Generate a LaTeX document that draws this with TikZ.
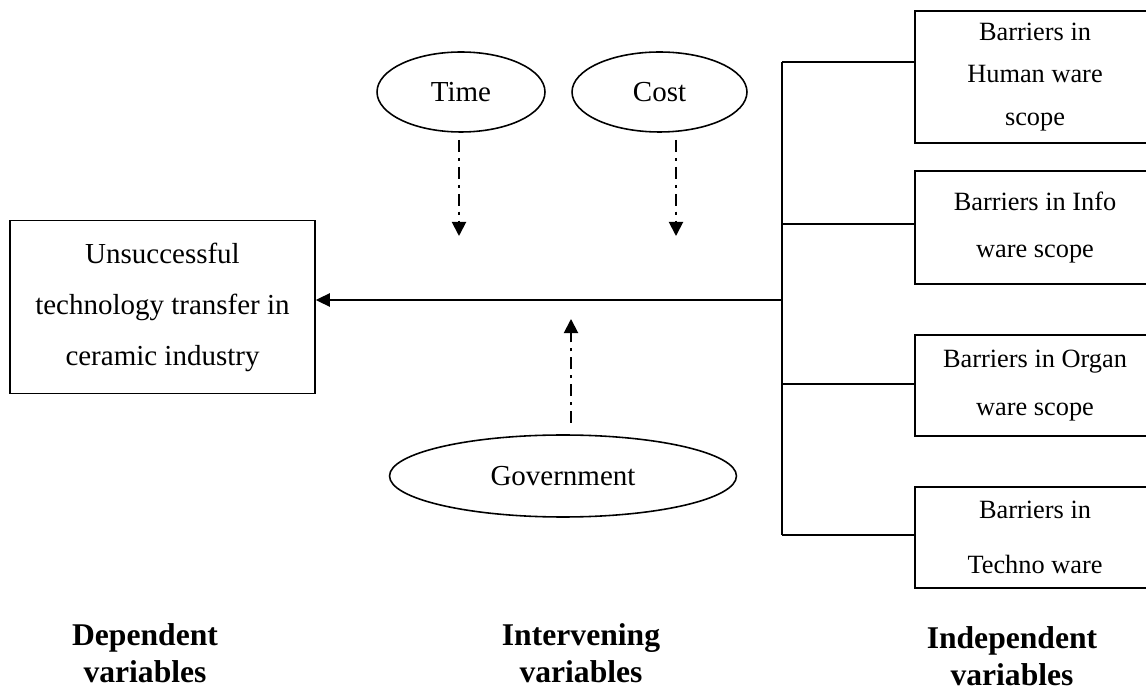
\documentclass[tikz,border=0pt]{standalone}
\usepackage{fontspec}
\setmainfont{Liberation Serif}
\usetikzlibrary{
    shapes.geometric,
    arrows.meta,
    positioning,
    calc
}
\tikzset{
    % Rectangular variable box
    varbox/.style={
        rectangle,
        draw=black,
        line width=0.9pt,
        align=center,
        inner sep=0pt,
        font=\fontsize{15}{#1}\selectfont
    },
    varbox/.default=25pt,
    % Ellipse for intervening variables
    moderator/.style={
        ellipse,
        draw=black,
        line width=0.9pt,
        inner sep=0pt,
        font=\fontsize{16.5}{20}\selectfont
    },
    % Arrow styles
    flow/.style={
        -{Triangle[length=8pt, width=7.5pt]},
        line width=1.1pt
    },
    effect/.style={
        -{Triangle[length=8pt, width=8pt]},
        line width=1.1pt,
        dash pattern={on 6.8pt off 3.4pt on 1.7pt off 3.4pt}
    },
    branch/.style={
        line width=1.1pt
    },
    % Column caption
    column title/.style={
        align=center,
        inner sep=0pt,
        font=\fontsize{18}{21}\selectfont\bfseries
    }
}
\begin{document}
\begin{tikzpicture}[x=0.02cm, y=-0.02cm]
        \useasboundingbox (0,0) rectangle (1146,695);

        % Dependent variable
        \node[varbox=29pt, font=\fontsize{16.5}{29}\selectfont,
              minimum width=6.1cm, minimum height=3.46cm] (dep) at (162.5, 307)
            {Unsuccessful\\technology transfer in\\ceramic industry};

        % Independent variables
        \node[varbox=24pt, minimum width=4.8cm, minimum height=2.64cm] (human) at (1035, 77)
            {Barriers in\\Human ware\\scope};
        \node[varbox=26.5pt, minimum width=4.8cm, minimum height=2.26cm] (info) at (1035, 227.5)
            {Barriers in Info\\ware scope};
        \node[varbox=27pt, minimum width=4.8cm, minimum height=2.02cm] (organ) at (1035, 385.5)
            {Barriers in Organ\\ware scope};
        \node[varbox=31pt, minimum width=4.8cm, minimum height=2.02cm] (techno) at (1035, 537.5)
            {Barriers in\\Techno ware};

        % Intervening variables
        \node[moderator, minimum width=3.36cm, minimum height=1.6cm] (time) at (461, 92) {Time};
        \node[moderator, minimum width=3.5cm, minimum height=1.6cm] (cost) at (659.5, 92) {Cost};
        \node[moderator, minimum width=6.94cm, minimum height=1.64cm] (gov) at (563, 476) {Government};

        % Bus of the independent variables
        \coordinate (bustop) at (782, 62);
        \coordinate (busbot) at (782, 535);
        \coordinate (bus) at (782, 300);
        \draw[branch] (bustop) -- (busbot);
        \draw[branch] (bustop) -- (bustop -| human.west);
        \draw[branch] (info.west |- 0,224) -- (782, 224);
        \draw[branch] (organ.west |- 0,384) -- (782, 384);
        \draw[branch] (busbot) -- (busbot -| techno.west);

        % Main effect
        \draw[flow] (bus) -- (bus -| dep.east);

        % Effects of the intervening variables
        \coordinate (timetip) at (459, 236);
        \coordinate (costtip) at (676, 236);
        \coordinate (govtip) at (571, 319);
        \draw[effect] (timetip |- 0,140) -- (timetip);
        \draw[effect] (costtip |- 0,140) -- (costtip);
        \draw[effect] (govtip |- 0,423) -- (govtip);

        % Column captions
        \node[column title] (deptitle) at (145, 653) {Dependent\\variables};
        \node[column title] (inttitle) at (581, 653) {Intervening\\variables};
        \node[column title] (indtitle) at (1012, 656) {Independent\\variables};

    \end{tikzpicture}
\end{document}
